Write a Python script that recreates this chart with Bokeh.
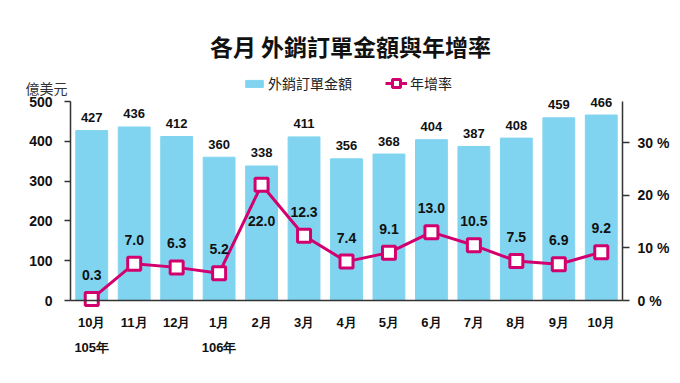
from bokeh.plotting import figure
from bokeh.models import (ColumnDataSource, Range1d, LinearAxis, FixedTicker,
                          LabelSet, Label, Legend, LegendItem)
from bokeh.core.properties import value
from bokeh.embed import file_html
from bokeh.resources import INLINE

# ---- data ----
months = ["10月", "11月", "12月", "1月", "2月", "3月", "4月", "5月", "6月",
          "7月", "8月", "9月", "10月"]
orders = [427, 436, 412, 360, 338, 411, 356, 368, 404, 387, 408, 459, 466]
growth = [0.3, 7.0, 6.3, 5.2, 22.0, 12.3, 7.4, 9.1, 13.0, 10.5, 7.5, 6.9, 9.2]
year_labels = ["105年", "106年"]
year_pos = [0, 3]
left_ticks = [0, 100, 200, 300, 400, 500]
right_ticks = [0, 10, 20, 30]
left_max = 500
right_max = 37.85

# ---- layout (pixels of the page) ----
W, H = 672, 375
FL, FR, FT, FB = 70, 622, 101, 300   # plot area edges

BAR = "#80d4f0"
LINE = "#d2006e"
AX = "#333333"
NUM_FONT = "Liberation Sans"
CJK = "Noto Sans CJK TC"

n = len(months)
xs = [i + 0.5 for i in range(n)]

# ranges chosen so that the data area maps to the pixel box above,
# while the whole canvas is the frame (nothing gets clipped)
xpx = (FR - FL) / n
ypx = (FB - FT) / left_max
rpx = (FB - FT) / right_max
x_range = Range1d(-FL / xpx, n + (W - FR) / xpx)
y_range = Range1d(-(H - FB) / ypx, left_max + FT / ypx)
r_range = Range1d(-(H - FB) / rpx, right_max + FT / rpx)

p = figure(width=W, height=H, x_range=x_range, y_range=y_range,
           output_backend="svg", toolbar_location=None,
           min_border=0, min_border_left=0, min_border_right=0,
           min_border_top=0, min_border_bottom=0, x_axis_type=None,
           y_axis_type=None)
p.extra_y_ranges = {"pct": r_range}
p.xgrid.visible = False
p.ygrid.visible = False
p.outline_line_color = None
p.background_fill_color = "white"


def style_axis(a, size="14px"):
    a.minor_tick_line_color = None
    a.major_tick_in = 0
    a.axis_line_color = AX
    a.axis_line_width = 1.5
    a.major_tick_line_color = AX
    a.major_tick_line_width = 1.5
    a.major_label_text_font = NUM_FONT
    a.major_label_text_font_size = size
    a.major_label_text_font_style = "bold"
    a.major_label_text_color = "#111111"


la = LinearAxis(ticker=FixedTicker(ticks=left_ticks), fixed_location=0,
                bounds=(0, left_max))
style_axis(la)
la.major_tick_out = 6
la.major_label_standoff = 12
p.add_layout(la, "left")

ba = LinearAxis(ticker=FixedTicker(ticks=xs), fixed_location=0, bounds=(0, n))
style_axis(ba, "13px")
ba.major_label_overrides = {x: m for x, m in zip(xs, months)}
ba.major_tick_line_color = None
ba.major_tick_out = 0
ba.major_label_standoff = 14
p.add_layout(ba, "below")

ra = LinearAxis(y_range_name="pct", ticker=FixedTicker(ticks=right_ticks),
                fixed_location=n, bounds=(0, right_max))
style_axis(ra)
ra.major_label_overrides = {float(t): f"{t} %" for t in right_ticks}
ra.major_tick_out = 7
ra.major_label_standoff = 8
p.add_layout(ra, "right")

src = ColumnDataSource(dict(x=xs, orders=orders, growth=growth,
                            otext=[str(v) for v in orders],
                            gtext=[f"{v:.1f}" for v in growth],
                            goff=[-36 if g == max(growth) else 24 for g in growth]))

bars = p.vbar(x="x", top="orders", width=0.75, source=src, color=BAR)
ln = p.line(x="x", y="growth", source=src, y_range_name="pct",
            line_color=LINE, line_width=3)
mk = p.scatter(x="x", y="growth", source=src, y_range_name="pct", marker="square",
               size=13, fill_color="white", line_color=LINE, line_width=3)

p.add_layout(LabelSet(x="x", y="orders", text="otext", source=src,
                      text_align="center", text_baseline="middle", y_offset=13,
                      text_font=value(NUM_FONT), text_font_size=value("13px"),
                      text_font_style="bold", text_color="#111111"))
p.add_layout(LabelSet(x="x", y="growth", text="gtext", source=src,
                      y_range_name="pct", y_offset="goff",
                      text_align="center", text_baseline="middle",
                      text_font=value(NUM_FONT), text_font_size=value("14px"),
                      text_font_style="bold", text_color="#111111"))

# title and unit (screen units, from the canvas' bottom-left)
p.add_layout(Label(x=350, y=H - 45, x_units="screen", y_units="screen",
                   text="各月 外銷訂單金額與年增率", text_align="center",
                   text_baseline="middle", text_font=CJK, text_font_size="23px",
                   text_font_style="bold", text_color="#111111"))
p.add_layout(Label(x=25, y=H - 87, x_units="screen", y_units="screen",
                   text="億美元", text_align="left", text_baseline="middle",
                   text_font=CJK, text_font_size="14px", text_color="#333333"))

for yl, yp in zip(year_labels, year_pos):
    p.add_layout(Label(x=xs[yp], y=H - 347, y_units="screen", text=yl,
                       text_align="center", text_baseline="middle",
                       text_font=NUM_FONT, text_font_size="13px",
                       text_font_style="bold", text_color="#111111"))

# legends
leg_style = dict(orientation="horizontal", padding=0, margin=0,
                 border_line_color=None, background_fill_alpha=0,
                 glyph_width=22, label_standoff=3, label_text_font=CJK,
                 label_text_font_size="14px", label_text_color="#222222")
leg_bar = Legend(items=[LegendItem(label="外銷訂單金額", renderers=[bars])],
                 location=(243, H - 93), glyph_height=9, **leg_style)
leg_line = Legend(items=[LegendItem(label="年增率", renderers=[ln, mk])],
                  location=(385, H - 93), glyph_height=20, **leg_style)
p.add_layout(leg_bar, "center")
p.add_layout(leg_line, "center")

open("out.html", "w").write(file_html(p, INLINE))
